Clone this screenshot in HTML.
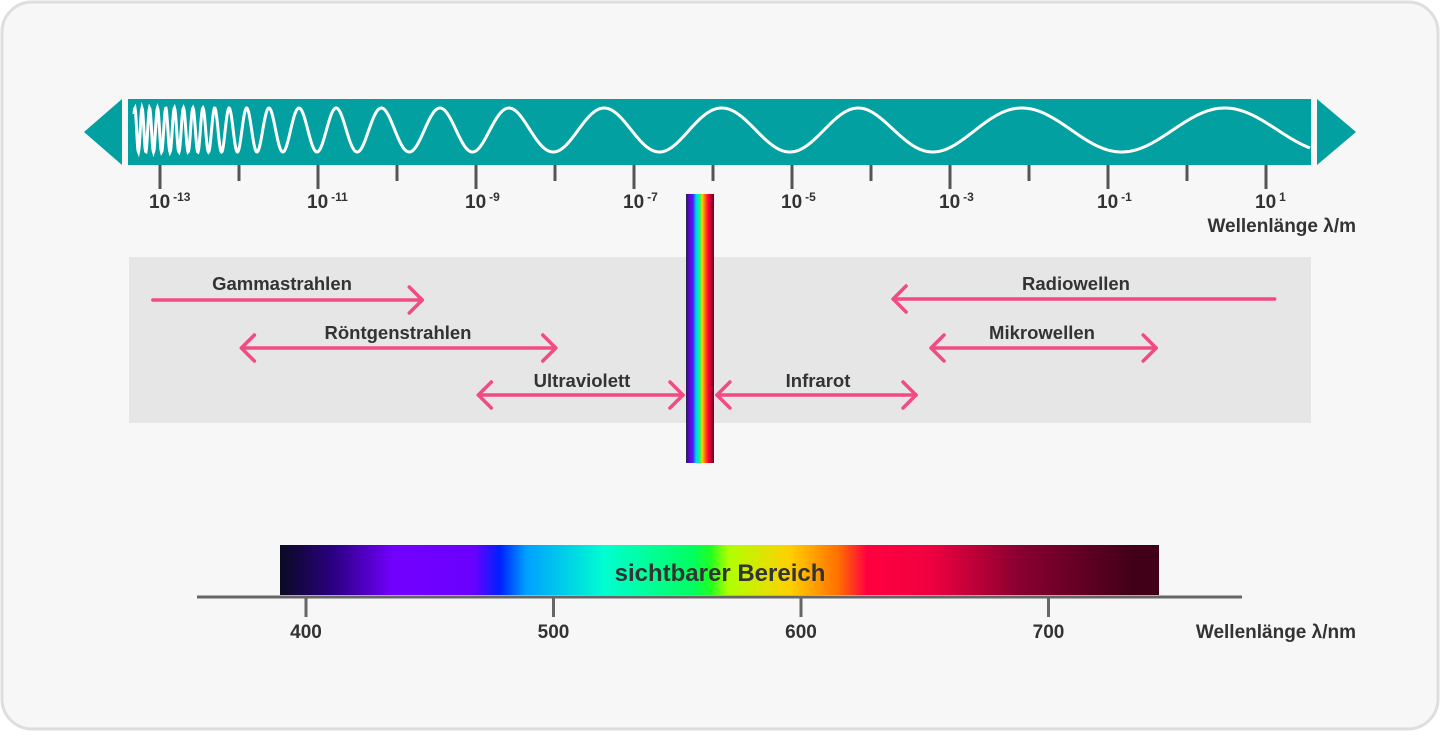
<!DOCTYPE html>
<html><head><meta charset="utf-8"><style>
body{margin:0;width:1440px;height:731px;background:#fff;overflow:hidden;font-family:"Liberation Sans",sans-serif}
svg text{font-family:"Liberation Sans",sans-serif;font-weight:bold;fill:#333}
</style></head><body>
<svg width="1440" height="731" viewBox="0 0 1440 731">
<defs>
<linearGradient id="vis" x1="0" x2="1" y1="0" y2="0">
<stop offset="0" stop-color="#0a0a22"/><stop offset="0.06" stop-color="#2a0080"/><stop offset="0.13" stop-color="#7300ff"/><stop offset="0.22" stop-color="#6a00ff"/><stop offset="0.25" stop-color="#0020ff"/><stop offset="0.28" stop-color="#00a0ff"/><stop offset="0.37" stop-color="#00ffd0"/><stop offset="0.47" stop-color="#00ff60"/><stop offset="0.49" stop-color="#20ff20"/><stop offset="0.51" stop-color="#b0ff00"/><stop offset="0.58" stop-color="#ffd000"/><stop offset="0.635" stop-color="#ff7000"/><stop offset="0.668" stop-color="#ff0040"/><stop offset="0.74" stop-color="#f00040"/><stop offset="0.84" stop-color="#8a0030"/><stop offset="0.97" stop-color="#420018"/><stop offset="1" stop-color="#400018"/>
</linearGradient>
<linearGradient id="vbar" x1="0" x2="1" y1="0" y2="0">
<stop offset="0" stop-color="#222244"/><stop offset="0.12" stop-color="#6600dd"/><stop offset="0.25" stop-color="#4422ff"/><stop offset="0.35" stop-color="#00ccff"/><stop offset="0.48" stop-color="#00ff80"/><stop offset="0.58" stop-color="#ffcc00"/><stop offset="0.68" stop-color="#ff6600"/><stop offset="0.8" stop-color="#ff0040"/><stop offset="1" stop-color="#660022"/>
</linearGradient>
</defs>
<rect x="2" y="2" width="1436" height="727" rx="30" fill="#f7f7f7" stroke="#dedede" stroke-width="3"/>
<rect x="128" y="99" width="1183" height="66" fill="#02a0a0"/>
<polygon points="84,132 122,99 122,165" fill="#02a0a0"/>
<polygon points="1317,99 1356,132 1317,165" fill="#02a0a0"/>
<path id="wave" fill="none" stroke="#fff" stroke-width="3"/>
<g id="ticks"></g>
<text x="1356" y="232" text-anchor="end" font-size="19">Wellenlänge λ/m</text>
<rect x="129" y="257" width="1182" height="166" fill="#e6e6e6"/>
<g id="arrows" stroke="#f24a84" stroke-width="3.5" fill="none" stroke-linecap="round" stroke-linejoin="round"></g>
<g id="labels" font-size="18.5"></g>
<rect x="686" y="194" width="28" height="269" fill="url(#vbar)"/>
<rect x="280" y="545" width="879" height="50" fill="url(#vis)"/>
<text x="720" y="581" text-anchor="middle" font-size="24">sichtbarer Bereich</text>
<line x1="197" y1="597" x2="1242" y2="597" stroke="#666" stroke-width="3"/>
<g id="nmticks"></g>
<text x="1356" y="638" text-anchor="end" font-size="19">Wellenlänge  λ/nm</text>
</svg>
<script>
const expTicks=[-13,-11,-9,-7,-5,-3,-1,1];
const nmTicks=[400,500,600,700];
const bands=[
 {name:'Gammastrahlen',from:-13.09,to:-9.68,y:300,left:false,right:true,lx:282,ly:290},
 {name:'Röntgenstrahlen',from:-11.97,to:-7.99,y:348,left:true,right:true,lx:398,ly:339},
 {name:'Ultraviolett',from:-8.97,to:-6.38,y:395,left:true,right:true,lx:582,ly:387},
 {name:'Infrarot',from:-5.95,to:-3.43,y:395,left:true,right:true,lx:818,ly:387},
 {name:'Mikrowellen',from:-3.24,to:-0.39,y:348,left:true,right:true,lx:1042,ly:339},
 {name:'Radiowellen',from:-3.72,to:1.11,y:299,left:true,right:false,lx:1076,ly:290}
];
const ns='http://www.w3.org/2000/svg';
const xE=e=>160+(e+13)*79.0;
const xNm=n=>306+(n-400)*2.475;
function mk(t,a,p){const el=document.createElementNS(ns,t);for(const k in a)el.setAttribute(k,a[k]);p.appendChild(el);return el;}
const pX=[134,200,250,300,340,410,475,555,660,725,860,1030,1310], pP=[7,10,20,35,40,60,67,98,115,136,137,197,215];
function per(x){for(let i=1;i<pX.length;i++)if(x<=pX[i]){const t=(x-pX[i-1])/(pX[i]-pX[i-1]);return pP[i-1]+t*(pP[i]-pP[i-1]);}return pP[pP.length-1];}
const xs=[],phs=[];let ph=0,ph440=0;
for(let x=134;x<=1310;x+=0.5){ph+=2*Math.PI*0.5/per(x);xs.push(x);phs.push(ph);if(Math.abs(x-440)<0.25)ph440=ph;}
let d='';xs.forEach((x,i)=>{const y=130-22*Math.cos(phs[i]-ph440);d+=(d?'L':'M')+x.toFixed(1)+','+y.toFixed(1);});
document.getElementById('wave').setAttribute('d',d);
const tg=document.getElementById('ticks');
for(let e=-13;e<=1;e++){const x=xE(e);const major=expTicks.includes(e);
 const l=mk('line',{x1:x,y1:165,x2:x,y2:major?189:181,stroke:'#555','stroke-width':3},tg);
 
 }
expTicks.forEach(e=>{const x=xE(e);const t=mk('text',{x:x-11,y:208,'font-size':19},tg);
 
 
 t.innerHTML='10<tspan dx="3" dy="-7" font-size="12">'+(e<0?'-'+(-e):e)+'</tspan>';});
const ag=document.getElementById('arrows'),lg=document.getElementById('labels');
bands.forEach(b=>{const x1=xE(b.from),x2=xE(b.to),y=b.y;
 const g=mk('g',{},ag);
 
 
 mk('line',{x1:x1,y1:y,x2:x2,y2:y},g);
 if(b.right)mk('polyline',{points:(x2-13)+','+(y-13)+' '+x2+','+y+' '+(x2-13)+','+(y+13)},g);
 if(b.left)mk('polyline',{points:(x1+13)+','+(y-13)+' '+x1+','+y+' '+(x1+13)+','+(y+13)},g);
 const t=mk('text',{x:b.lx,y:b.ly,'text-anchor':'middle'},lg);
 
 
 t.textContent=b.name;});
const ng=document.getElementById('nmticks');
nmTicks.forEach(n=>{const x=xNm(n);
 const l=mk('line',{x1:x,y1:597,x2:x,y2:617,stroke:'#666','stroke-width':3},ng);
 
 
 const t=mk('text',{x:x,y:638,'text-anchor':'middle','font-size':19},ng);
 
 
 t.textContent=n;});
</script>
</body></html>
